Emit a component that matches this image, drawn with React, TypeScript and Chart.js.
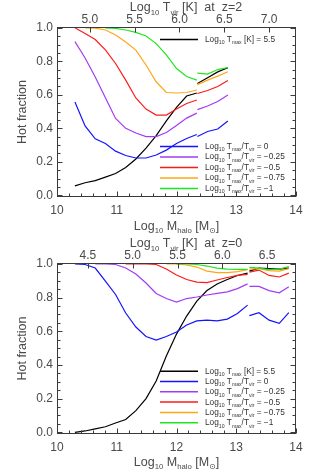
import React, { useEffect, useRef } from 'react';
import { Chart, registerables } from 'chart.js';

Chart.register(...registerables);

const FONT = '"Liberation Sans", "DejaVu Sans", Arial, sans-serif';

// ---------------- data ----------------
const massTicks = [10, 11, 12, 13, 14];
const fracTicks = [0, 0.2, 0.4, 0.6, 0.8, 1.0];
const tvirTicksZ2 = [5.0, 5.5, 6.0, 6.5, 7.0];
const tvirTicksZ0 = [4.5, 5.0, 5.5, 6.0, 6.5];

// halo-mass sampling (log10 Msun)
const massZ2a = [10.3, 10.47, 10.64, 10.81, 10.98, 11.15, 11.32, 11.49, 11.66, 11.83, 12.0, 12.17, 12.34];
const massZ2b = [12.35, 12.52, 12.69, 12.86];
const massZ0a = [10.3, 10.47, 10.64, 10.81, 10.98, 11.15, 11.32, 11.49, 11.66, 11.83, 12.0, 12.17, 12.34, 12.51, 12.68, 12.85, 13.02, 13.19];
const massZ0b = [13.22, 13.38, 13.55, 13.72, 13.88];

// z = 2 (top panel); series end at the last mass of their grid
const z2Black_a = [0.056, 0.075, 0.088, 0.109, 0.13, 0.166, 0.217, 0.282, 0.357, 0.445, 0.525, 0.593, 0.611];
const z2Black_b = [0.668, 0.702, 0.737, 0.762];
const z2Blue_a = [0.557, 0.414, 0.337, 0.309, 0.264, 0.238, 0.223, 0.223, 0.241, 0.27, 0.309, 0.339, 0.363];
const z2Blue_b = [0.351, 0.381, 0.396, 0.444];
const z2Purple_a = [0.918, 0.82, 0.706, 0.583, 0.459, 0.4, 0.372, 0.351, 0.351, 0.375, 0.417, 0.461, 0.491];
const z2Purple_b = [0.512, 0.533, 0.56, 0.599];
const z2Red_a = [1.0, 0.966, 0.93, 0.868, 0.787, 0.688, 0.581, 0.515, 0.479, 0.479, 0.515, 0.548, 0.569];
const z2Red_b = [0.608, 0.626, 0.65, 0.685];
const z2Orange_a = [1.0, 0.998, 0.987, 0.957, 0.915, 0.867, 0.778, 0.678, 0.614, 0.611, 0.614, 0.629];
const z2Orange_b = [0.661, 0.688, 0.712, 0.738];
const z2Green_a = [1.0, 0.997, 0.987, 0.973, 0.951, 0.906, 0.838, 0.757, 0.709, 0.688];
const z2Green_b = [0.73, 0.724, 0.751, 0.763];

// z = 0 (bottom panel)
const z0Black_a = [0.0, 0.008, 0.02, 0.033, 0.055, 0.076, 0.129, 0.2, 0.304, 0.453, 0.583, 0.69, 0.779, 0.842, 0.88, 0.907, 0.931, 0.945];
const z0Black_b = [0.957, 0.975, 0.972, 0.969, 0.975];
const z0Blue_a = [1.0, 0.996, 0.975, 0.898, 0.818, 0.708, 0.625, 0.569, 0.548, 0.569, 0.595, 0.637, 0.661, 0.666, 0.661, 0.672, 0.705, 0.755];
const z0Blue_b = [0.693, 0.71, 0.666, 0.647, 0.711];
const z0Purple_a = [1.0, 1.0, 0.996, 0.975, 0.94, 0.886, 0.824, 0.794, 0.773, 0.794, 0.803, 0.815, 0.825, 0.834, 0.853, 0.881];
const z0Purple_b = [0.866, 0.866, 0.841, 0.828, 0.864];
const z0Red_a = [1.0, 1.0, 1.0, 0.996, 0.969, 0.934, 0.907, 0.892, 0.889, 0.904, 0.919, 0.931, 0.937];
const z0Red_b = [0.951, 0.963, 0.931, 0.922, 0.945];
const z0Orange_a = [1.0, 1.0, 0.993, 0.981, 0.957, 0.948, 0.948, 0.954, 0.966];
const z0Orange_b = [0.969, 0.972, 0.96, 0.957, 0.972];
const z0Green_a = [1.0, 1.0, 0.996, 0.987, 0.975, 0.969, 0.967, 0.967];
const z0Green_b = [0.979, 0.975, 0.966, 0.969, 0.983];

// legend texts
const ratioLabels = ['0', '\u22120.25', '\u22120.5', '\u22120.75', '\u22121'];
const tmaxLabel = '5.5';

// virial temperature <-> halo mass anchors (log Tvir = 2/3 log M + const)
const tvirAnchorZ2 = { t: 5.0, m: 10.55 };
const tvirAnchorZ0 = { t: 4.5, m: 10.517 };

// ---------------- styling ----------------
const COLORS = {
  black: '#000000',
  blue: '#1414ff',
  purple: '#a23cf2',
  red: '#ff1a1a',
  orange: '#ffa616',
  green: '#1ee61e',
};
const TEXT = '#4a4a4a';
const AXIS = '#3a3a3a';
const LEGEND_SIZE = 8.3;

type Part = [string, boolean];

function drawRich(ctx: CanvasRenderingContext2D, parts: Part[], x: number, yMid: number, size: number, align: 'left' | 'center') {
  const sub = size * 0.62;
  let w = 0;
  for (const [t, s] of parts) {
    ctx.font = `${s ? sub : size}px ${FONT}`;
    w += ctx.measureText(t).width;
  }
  let cx = align === 'center' ? x - w / 2 : x;
  const base = yMid + size * 0.36;
  ctx.textAlign = 'left';
  ctx.textBaseline = 'alphabetic';
  for (const [t, s] of parts) {
    ctx.font = `${s ? sub : size}px ${FONT}`;
    ctx.fillText(t, cx, s ? base + size * 0.28 : base);
    cx += ctx.measureText(t).width;
  }
}

const pts = (grid: number[], vals: number[]) =>
  vals.map((v, i) => ({ x: grid[grid.length - vals.length + i], y: v }));

function ds(label: string, grid: number[], vals: number[], color: string, order: number) {
  return {
    label,
    data: pts(grid, vals),
    borderColor: color,
    backgroundColor: color,
    borderWidth: 1.2,
    pointRadius: 0,
    fill: false,
    tension: 0,
    order,
  };
}

const ratioParts = (r: string): Part[] => [
  ['Log', false], ['10', true], [' T', false], ['max', true], ['/T', false], ['vir', true], [' = ' + r, false],
];
const tmaxParts: Part[] = [['Log', false], ['10', true], [' T', false], ['max', true], [' [K] = ' + tmaxLabel, false]];
const xTitleParts: Part[] = [['Log', false], ['10', true], [' M', false], ['halo', true], [' [M', false], ['\u2299', true], [']', false]];
const topTitle = (z: string): Part[] => [['Log', false], ['10', true], [' T', false], ['vir', true], [' [K]  at  z=' + z, false]];

function makeChart(canvas: HTMLCanvasElement, panel: any) {
  const massOfT = (t: number) => panel.anchor.m + 1.5 * (t - panel.anchor.t);
  const tickFont = { family: FONT, size: 12 };

  const framePlugin = {
    id: 'frame',
    afterDraw(chart: any) {
      const { ctx, chartArea: a } = chart;
      const xs = chart.scales.x;
      const ys = chart.scales.y;
      ctx.save();
      ctx.strokeStyle = AXIS;
      ctx.lineWidth = 1;
      const L = Math.round(a.left) + 0.5, R = Math.round(a.right) - 0.5;
      const T = Math.round(a.top) + 0.5, B = Math.round(a.bottom) - 0.5;
      ctx.strokeRect(L, T, R - L, B - T);
      ctx.beginPath();
      for (let k = 0; k <= 20; k++) {
        const len = k % 4 === 0 ? 5 : 3;
        const py = Math.round(ys.getPixelForValue(k * 0.05)) + 0.5;
        ctx.moveTo(L, py); ctx.lineTo(L + len, py);
        ctx.moveTo(R, py); ctx.lineTo(R - len, py);
      }
      for (let k = 0; k <= 20; k++) {
        const len = k % 5 === 0 ? 5 : 3;
        const px = Math.round(xs.getPixelForValue(10 + k * 0.2)) + 0.5;
        ctx.moveTo(px, B); ctx.lineTo(px, B - len);
      }
      for (const t of panel.tvirTicks) {
        const px = Math.round(xs.getPixelForValue(massOfT(t))) + 0.5;
        ctx.moveTo(px, T); ctx.lineTo(px, T + 5);
      }
      ctx.stroke();
      ctx.restore();
    },
  };

  const legendPlugin = {
    id: 'richLegend',
    afterDraw(chart: any) {
      const { ctx } = chart;
      ctx.save();
      for (const it of panel.legend) {
        ctx.strokeStyle = it.color;
        ctx.lineWidth = 1.5;
        ctx.beginPath();
        ctx.moveTo(160, it.y + 0.5);
        ctx.lineTo(198, it.y + 0.5);
        ctx.stroke();
        ctx.fillStyle = '#333';
        drawRich(ctx, it.parts, 205, it.y, LEGEND_SIZE, 'left');
      }
      ctx.restore();
    },
  };

  const titlePlugin = {
    id: 'richTitles',
    afterDraw(chart: any) {
      const { ctx, chartArea: a } = chart;
      ctx.save();
      ctx.fillStyle = TEXT;
      drawRich(ctx, topTitle(panel.z), 186, 6.5, 12.5, 'center');
      drawRich(ctx, xTitleParts, (a.left + a.right) / 2, 225, 12.5, 'center');
      ctx.restore();
    },
  };

  return new Chart(canvas, {
    type: 'line',
    data: { datasets: panel.datasets },
    plugins: [framePlugin, legendPlugin, titlePlugin],
    options: {
      responsive: false,
      animation: false,
      devicePixelRatio: 1,
      layout: { padding: { left: 0, right: 19, top: 0, bottom: 0 } },
      plugins: {
        legend: { display: false },
        tooltip: { enabled: false },
      },
      scales: {
        x: {
          type: 'linear', position: 'bottom', min: 10, max: 14,
          afterBuildTicks: (s: any) => { s.ticks = massTicks.map((v) => ({ value: v })); },
          afterFit: (s: any) => { s.height = panel.bottomH; },
          grid: { display: false, drawTicks: false }, border: { display: false },
          ticks: { font: tickFont, color: TEXT, padding: 6, maxRotation: 0, autoSkip: false, callback: (v: any) => String(v) },
        },
        xt: {
          type: 'linear', position: 'top', min: 10, max: 14,
          afterBuildTicks: (s: any) => { s.ticks = panel.tvirTicks.map((t: number) => ({ value: massOfT(t) })); },
          afterFit: (s: any) => { s.height = 27; },
          grid: { display: false, drawTicks: false }, border: { display: false },
          ticks: {
            font: tickFont, color: TEXT, padding: 0, maxRotation: 0, autoSkip: false,
            callback: (_v: any, i: number) => panel.tvirTicks[i].toFixed(1),
          },
        },
        y: {
          type: 'linear', position: 'left', min: -0.01, max: 1.005,
          afterBuildTicks: (s: any) => { s.ticks = fracTicks.map((v) => ({ value: v })); },
          afterFit: (s: any) => { s.width = 57; },
          grid: { display: false, drawTicks: false }, border: { display: false },
          ticks: { font: tickFont, color: TEXT, padding: 4, callback: (v: any) => Number(v).toFixed(1) },
          title: { display: true, text: 'Hot fraction', font: { family: FONT, size: 12.5 }, color: TEXT, padding: { top: 15, bottom: 0 } },
        },
      },
    } as any,
  });
}

export default function App() {
  const topRef = useRef<HTMLCanvasElement>(null);
  const botRef = useRef<HTMLCanvasElement>(null);

  useEffect(() => {
    const topPanel = {
      z: '2', bottomH: 236 - 197, anchor: tvirAnchorZ2, tvirTicks: tvirTicksZ2,
      datasets: [
        ds('T5.5', massZ2a, z2Black_a, COLORS.black, 6), ds('T5.5b', massZ2b, z2Black_b, COLORS.black, 6),
        ds('r0', massZ2a, z2Blue_a, COLORS.blue, 5), ds('r0b', massZ2b, z2Blue_b, COLORS.blue, 5),
        ds('r-0.25', massZ2a, z2Purple_a, COLORS.purple, 4), ds('r-0.25b', massZ2b, z2Purple_b, COLORS.purple, 4),
        ds('r-0.5', massZ2a, z2Red_a, COLORS.red, 3), ds('r-0.5b', massZ2b, z2Red_b, COLORS.red, 3),
        ds('r-0.75', massZ2a, z2Orange_a, COLORS.orange, 2), ds('r-0.75b', massZ2b, z2Orange_b, COLORS.orange, 2),
        ds('r-1', massZ2a, z2Green_a, COLORS.green, 1), ds('r-1b', massZ2b, z2Green_b, COLORS.green, 1),
      ],
      legend: [
        { color: COLORS.black, parts: tmaxParts, y: 39 },
        { color: COLORS.blue, parts: ratioParts(ratioLabels[0]), y: 146 },
        { color: COLORS.purple, parts: ratioParts(ratioLabels[1]), y: 156.5 },
        { color: COLORS.red, parts: ratioParts(ratioLabels[2]), y: 167 },
        { color: COLORS.orange, parts: ratioParts(ratioLabels[3]), y: 177.5 },
        { color: COLORS.green, parts: ratioParts(ratioLabels[4]), y: 188 },
      ],
    };
    const botPanel = {
      z: '0', bottomH: 236 - 198, anchor: tvirAnchorZ0, tvirTicks: tvirTicksZ0,
      datasets: [
        ds('T5.5', massZ0a, z0Black_a, COLORS.black, 6), ds('T5.5b', massZ0b, z0Black_b, COLORS.black, 6),
        ds('r0', massZ0a, z0Blue_a, COLORS.blue, 5), ds('r0b', massZ0b, z0Blue_b, COLORS.blue, 5),
        ds('r-0.25', massZ0a, z0Purple_a, COLORS.purple, 4), ds('r-0.25b', massZ0b, z0Purple_b, COLORS.purple, 4),
        ds('r-0.5', massZ0a, z0Red_a, COLORS.red, 3), ds('r-0.5b', massZ0b, z0Red_b, COLORS.red, 3),
        ds('r-0.75', massZ0a, z0Orange_a, COLORS.orange, 2), ds('r-0.75b', massZ0b, z0Orange_b, COLORS.orange, 2),
        ds('r-1', massZ0a, z0Green_a, COLORS.green, 1), ds('r-1b', massZ0b, z0Green_b, COLORS.green, 1),
      ],
      legend: [
        { color: COLORS.black, parts: tmaxParts, y: 134.7 },
        { color: COLORS.blue, parts: ratioParts(ratioLabels[0]), y: 145 },
        { color: COLORS.purple, parts: ratioParts(ratioLabels[1]), y: 155.3 },
        { color: COLORS.red, parts: ratioParts(ratioLabels[2]), y: 165.6 },
        { color: COLORS.orange, parts: ratioParts(ratioLabels[3]), y: 175.9 },
        { color: COLORS.green, parts: ratioParts(ratioLabels[4]), y: 186.2 },
      ],
    };
    const c1 = makeChart(topRef.current!, topPanel);
    const c2 = makeChart(botRef.current!, botPanel);
    return () => { c1.destroy(); c2.destroy(); };
  }, []);

  return (
    <div style={{ position: 'absolute', left: 0, top: 0, width: 315, height: 472, background: '#fff' }}>
      <canvas ref={topRef} width={315} height={236} style={{ position: 'absolute', left: 0, top: 0 }} />
      <canvas ref={botRef} width={315} height={236} style={{ position: 'absolute', left: 0, top: 236 }} />
    </div>
  );
}
